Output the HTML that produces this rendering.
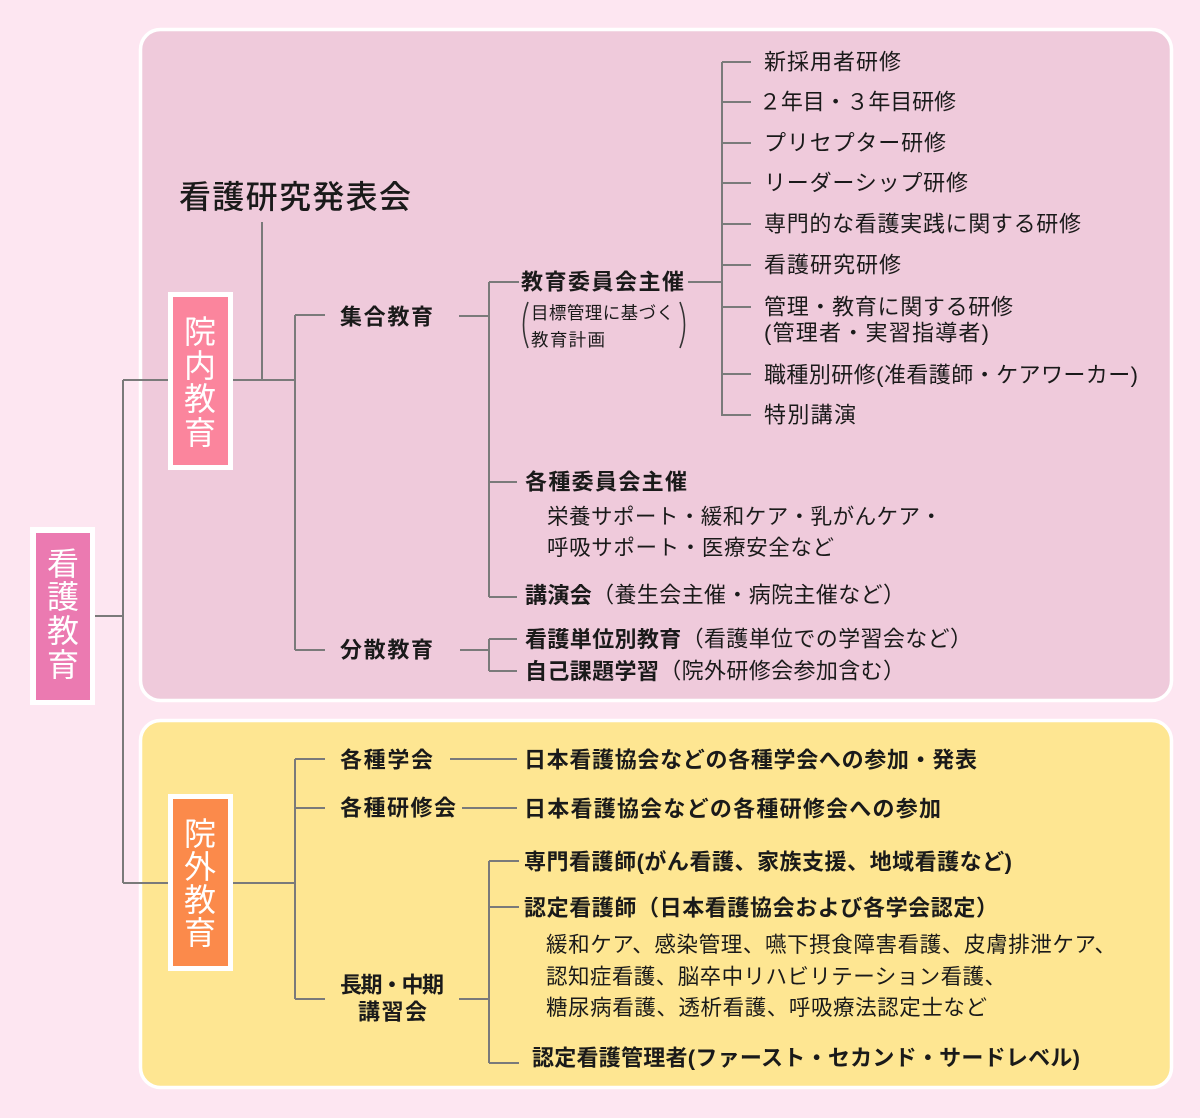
<!DOCTYPE html>
<html><head><meta charset="utf-8"><style>
html,body{margin:0;padding:0;background:#fde6f1;}
svg{display:block;}
text{font-family:"Liberation Sans","Noto Sans CJK JP",sans-serif;fill:#1a1a1a;dominant-baseline:central;}
.b{font-weight:bold;font-size:22px;}
.r{font-size:21px;}
.l{font-size:22px;}
.s{font-size:17.5px;}
.v{font-size:32px;fill:#fff;text-anchor:middle;}
</style></head><body>
<svg width="1200" height="1118" viewBox="0 0 1200 1118" xmlns="http://www.w3.org/2000/svg">
<rect x="0" y="0" width="1200" height="1118" fill="#fde6f1"/>
<!-- panels -->
<rect x="140.5" y="29.5" width="1031" height="671" rx="20" fill="#efcadb" stroke="#fff" stroke-width="3.5"/>
<rect x="140.5" y="720.5" width="1031" height="367" rx="20" fill="#fee692" stroke="#fff" stroke-width="3.5"/>

<!-- connectors -->
<g stroke="#7a7a7a" stroke-width="2" fill="none">
<path d="M95,616 H123 M123,380 V883 M123,380 H168 M123,883 H168"/>
<path d="M232,380 H295 M262,222 V380 M295,315 V650 M295,315 H325 M295,650 H325"/>
<path d="M459,316 H489 M489,282 V597 M489,282 H519 M489,482 H517 M489,597 H517"/>
<path d="M688,282 H722 M722,62 V416"/>
<path d="M722,62 H751 M722,102 H751 M722,143 H751 M722,183 H751 M722,224 H751 M722,265 H751 M722,307 H751 M722,374 H751 M722,415 H751"/>
<path d="M460,650 H489 M489,639 V671 M489,639 H517 M489,671 H517"/>
<path d="M233,883 H295 M295,759 V999 M295,759 H325 M295,808 H325 M295,999 H325"/>
<path d="M450,759 H517 M462,808 H517"/>
<path d="M459,999 H489 M489,861 V1063 M489,861 H519 M489,907 H519 M489,1063 H519"/>
<path d="M528,302 Q519,325 528,348 M680,302 Q689,325 680,348" stroke="#333" stroke-width="1.6"/>
</g>

<!-- boxes -->
<rect x="30" y="527" width="65" height="178" fill="#fff"/>
<rect x="36" y="533" width="54" height="167" fill="#eb7ab1"/>
<rect x="168" y="292" width="65" height="178" fill="#fff"/>
<rect x="173" y="297" width="55" height="168" fill="#fb859d"/>
<rect x="168" y="794" width="65" height="177" fill="#fff"/>
<rect x="173" y="799" width="55" height="167" fill="#fb8a4b"/>

<text class="v" x="63" y="564">看</text>
<text class="v" x="63" y="597">護</text>
<text class="v" x="63" y="631">教</text>
<text class="v" x="63" y="665">育</text>

<text class="v" x="200" y="332">院</text>
<text class="v" x="200" y="366">内</text>
<text class="v" x="200" y="399">教</text>
<text class="v" x="200" y="433">育</text>

<text class="v" x="200" y="834">院</text>
<text class="v" x="200" y="867">外</text>
<text class="v" x="200" y="900">教</text>
<text class="v" x="200" y="933">育</text>

<!-- top panel texts -->
<text x="179" y="197" style="font-size:32px;font-weight:500" textLength="232" lengthAdjust="spacing">看護研究発表会</text>
<text class="b" x="340" y="317" textLength="93" lengthAdjust="spacing">集合教育</text>
<text class="b" x="340" y="650" textLength="93" lengthAdjust="spacing">分散教育</text>
<text class="b" x="521" y="282" textLength="163" lengthAdjust="spacing">教育委員会主催</text>
<text class="s" x="531" y="313" textLength="143" lengthAdjust="spacing">目標管理に基づく</text>
<text class="s" x="531" y="340" textLength="74" lengthAdjust="spacing">教育計画</text>

<text class="l" x="764" y="62" textLength="137" lengthAdjust="spacing">新採用者研修</text>
<text class="l" x="759" y="102" textLength="197" lengthAdjust="spacing">２年目・３年目研修</text>
<text class="l" x="764" y="143" textLength="182" lengthAdjust="spacing">プリセプター研修</text>
<text class="l" x="764" y="183" textLength="204" lengthAdjust="spacing">リーダーシップ研修</text>
<text class="l" x="764" y="224" textLength="317" lengthAdjust="spacing">専門的な看護実践に関する研修</text>
<text class="l" x="764" y="265" textLength="137" lengthAdjust="spacing">看護研究研修</text>
<text class="l" x="764" y="307" textLength="249" lengthAdjust="spacing">管理・教育に関する研修</text>
<text class="l" x="764" y="333" textLength="225" lengthAdjust="spacing">(管理者・実習指導者)</text>
<text class="l" x="764" y="375" textLength="374" lengthAdjust="spacing">職種別研修(准看護師・ケアワーカー)</text>
<text class="l" x="764" y="415" textLength="92" lengthAdjust="spacing">特別講演</text>

<text class="b" x="525" y="482" textLength="162" lengthAdjust="spacing">各種委員会主催</text>
<text class="r" x="547" y="517" style="font-size:21.5px" textLength="395" lengthAdjust="spacing">栄養サポート・緩和ケア・乳がんケア・</text>
<text class="r" x="547" y="548" style="font-size:21.5px" textLength="287" lengthAdjust="spacing">呼吸サポート・医療安全など</text>
<text x="525" y="595" style="font-size:22px" textLength="380" lengthAdjust="spacing"><tspan font-weight="bold">講演会</tspan>（養生会主催・病院主催など）</text>
<text x="525" y="639" style="font-size:22px" textLength="447" lengthAdjust="spacing"><tspan font-weight="bold">看護単位別教育</tspan>（看護単位での学習会など）</text>
<text x="525" y="671" style="font-size:22px" textLength="380" lengthAdjust="spacing"><tspan font-weight="bold">自己課題学習</tspan>（院外研修会参加含む）</text>

<!-- bottom panel texts -->
<text class="b" x="340" y="760" textLength="93" lengthAdjust="spacing">各種学会</text>
<text class="b" x="340" y="808" textLength="116" lengthAdjust="spacing">各種研修会</text>
<text class="b" x="340" y="985" textLength="104" lengthAdjust="spacing">長期・中期</text>
<text class="b" x="358" y="1012" textLength="69" lengthAdjust="spacing">講習会</text>

<text class="b" x="524" y="760" textLength="453" lengthAdjust="spacing">日本看護協会などの各種学会への参加・発表</text>
<text class="b" x="524" y="809" textLength="417" lengthAdjust="spacing">日本看護協会などの各種研修会への参加</text>
<text class="b" x="524" y="862" textLength="488" lengthAdjust="spacing">専門看護師(がん看護、家族支援、地域看護など)</text>
<text class="b" x="524" y="908" textLength="474" lengthAdjust="spacing">認定看護師（日本看護協会および各学会認定）</text>
<text class="r" x="546" y="945" style="font-size:21.5px" textLength="570" lengthAdjust="spacing">緩和ケア、感染管理、嚥下摂食障害看護、皮膚排泄ケア、</text>
<text class="r" x="546" y="977" style="font-size:21.5px" textLength="460" lengthAdjust="spacing">認知症看護、脳卒中リハビリテーション看護、</text>
<text class="r" x="546" y="1008" style="font-size:21.5px" textLength="441" lengthAdjust="spacing">糖尿病看護、透析看護、呼吸療法認定士など</text>
<text class="b" x="532" y="1058" textLength="548" lengthAdjust="spacing">認定看護管理者(ファースト・セカンド・サードレベル)</text>
</svg>
</body></html>
